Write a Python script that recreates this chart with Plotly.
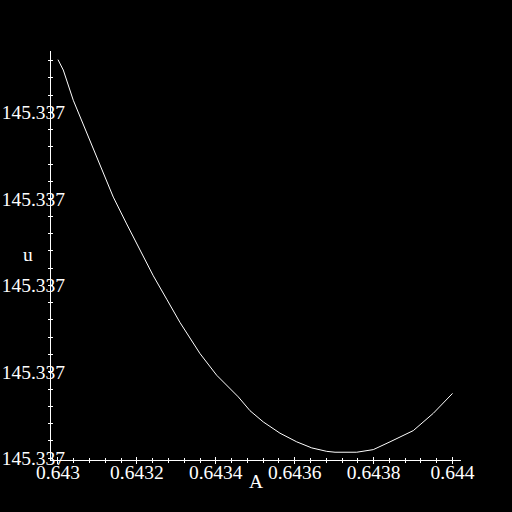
import plotly.graph_objects as go

# Data
A = [0.6430000, 0.6430134, 0.6430388, 0.6430641, 0.6430895, 0.6431148, 0.6431402,
     0.6431741, 0.6432079, 0.6432416, 0.6432755, 0.6433093, 0.6433600, 0.6434023,
     0.6434570, 0.6434867, 0.6435204, 0.6435627, 0.6436051, 0.6436431, 0.6436811,
     0.6437022, 0.6437572, 0.6437992, 0.6438416, 0.6439006, 0.6439513, 0.6440000]
u = [145.3370461, 145.3370449, 145.3370414, 145.3370386, 145.3370358, 145.3370330,
     145.3370302, 145.3370271, 145.3370240, 145.3370211, 145.3370184, 145.3370157,
     145.3370121, 145.3370096, 145.3370071, 145.3370055, 145.3370042, 145.3370029,
     145.3370019, 145.3370012, 145.3370008, 145.3370007, 145.3370007, 145.3370010,
     145.3370019, 145.3370032, 145.3370052, 145.3370075]

x_range = [0.6429823, 0.6440215]
y_range = [145.3369998, 145.3370471]
x_tick0, x_dtick, x_minor = 0.643, 0.0002, 0.00004
y_tick0, y_dtick, y_minor = 145.337, 0.00001, 0.000002

FONT = "Liberation Serif"
FS = 19.5

fig = go.Figure()
fig.add_trace(go.Scatter(x=A, y=u, mode="lines", line=dict(color="white", width=1),
                         showlegend=False, hoverinfo="skip"))
fig.add_trace(go.Scatter(x=[], y=[], xaxis="x2", yaxis="y2", showlegend=False))

common = dict(showgrid=False, zeroline=False, color="white", automargin=False)
fig.update_layout(
    template="none",
    width=512, height=512,
    paper_bgcolor="black", plot_bgcolor="black",
    margin=dict(l=51, r=51, t=51, b=52, autoexpand=False),
    font=dict(family=FONT, size=FS, color="white"),
    xaxis=dict(range=x_range, tickmode="linear", tick0=x_tick0, dtick=x_dtick,
               tickformat="~g", showline=True, linecolor="white", linewidth=1,
               ticks="outside", ticklen=3, tickcolor="white", tickwidth=1,
               ticklabelstandoff=-8,
               minor=dict(tick0=x_tick0, dtick=x_minor, ticks="outside", ticklen=2,
                          tickcolor="white"),
               tickfont=dict(family=FONT, size=FS, color="white"), **common),
    yaxis=dict(range=y_range, tickmode="linear", tick0=y_tick0, dtick=y_dtick,
               tickformat=".3f", showline=True, linecolor="white", linewidth=1,
               ticks="outside", ticklen=2, tickcolor="white", tickwidth=1,
               ticklabelstandoff=-21,
               minor=dict(tick0=y_tick0, dtick=y_minor, ticks="outside", ticklen=2,
                          tickcolor="white"),
               tickfont=dict(family=FONT, size=FS, color="white"), **common),
    xaxis2=dict(range=x_range, overlaying="x", anchor="y2", side="bottom",
                tickmode="linear", tick0=x_tick0, dtick=x_dtick, showticklabels=False,
                ticks="inside", ticklen=3, tickcolor="white", showline=False,
                minor=dict(tick0=x_tick0, dtick=x_minor, ticks="inside", ticklen=2,
                           tickcolor="white"), **common),
    yaxis2=dict(range=y_range, overlaying="y", anchor="x2", side="left",
                tickmode="linear", tick0=y_tick0, dtick=y_dtick, showticklabels=False,
                ticks="inside", ticklen=2, tickcolor="white", showline=False,
                minor=dict(tick0=y_tick0, dtick=y_minor, ticks="inside", ticklen=2,
                           tickcolor="white"), **common),
    annotations=[
        dict(text="u", xref="paper", yref="paper", x=-(51 - 28) / 410, y=(460 - 254) / 409,
             showarrow=False, xanchor="center", yanchor="middle",
             font=dict(family=FONT, size=FS, color="white")),
        dict(text="A", xref="paper", yref="paper", x=(256 - 51) / 410, y=-(482 - 460) / 409,
             showarrow=False, xanchor="center", yanchor="middle",
             font=dict(family=FONT, size=FS, color="white")),
    ],
)

fig.write_html("out.html", config={"displayModeBar": False},
               post_script="document.body.style.margin='0';document.body.style.background='black';")
